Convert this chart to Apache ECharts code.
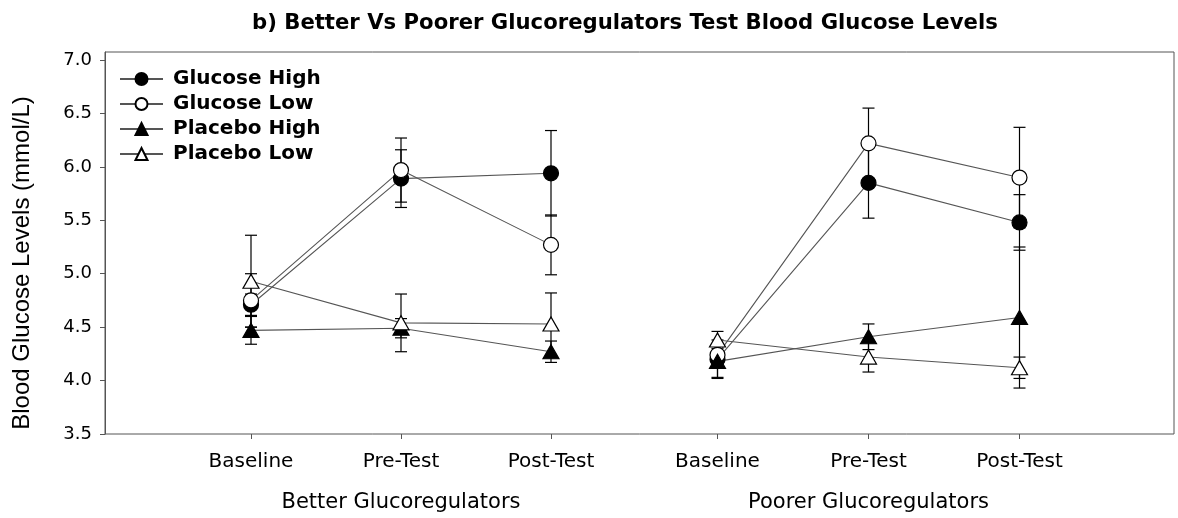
<!DOCTYPE html>
<html>
<head>
<meta charset="utf-8">
<script src="https://cdn.jsdelivr.net/npm/echarts@6/dist/echarts.min.js"></script>
<style>
html,body{margin:0;padding:0;background:#fff;}
#chart{width:1178px;height:518px;}
</style>
</head>
<body>
<div id="chart"></div>
<script>
// ---- data ----
const timepoints = ['Baseline', 'Pre-Test', 'Post-Test'];
const groupNames = ['Better Glucoregulators', 'Poorer Glucoregulators'];
const seriesNames = ['Glucose High', 'Glucose Low', 'Placebo High', 'Placebo Low'];
const yTicks = [3.5, 4.0, 4.5, 5.0, 5.5, 6.0, 6.5, 7.0];

// Better glucoregulators: means and standard errors
const betterGlucoseHigh = [4.71, 5.89, 5.94];
const betterGlucoseHighSE = [0.10, 0.27, 0.40];
const betterGlucoseLow = [4.75, 5.97, 5.27];
const betterGlucoseLowSE = [0.25, 0.30, 0.28];
const betterPlaceboHigh = [4.47, 4.49, 4.27];
const betterPlaceboHighSE = [0.13, 0.09, 0.10];
const betterPlaceboLow = [4.93, 4.54, 4.53];
const betterPlaceboLowSE = [0.43, 0.27, 0.29];

// Poorer glucoregulators: means and standard errors
const poorerGlucoseHigh = [4.20, 5.85, 5.48];
const poorerGlucoseHighSE = [0.18, 0.33, 0.26];
const poorerGlucoseLow = [4.24, 6.22, 5.90];
const poorerGlucoseLowSE = [0.08, 0.33, 0.47];
const poorerPlaceboHigh = [4.18, 4.41, 4.59];
const poorerPlaceboHighSE = [0.15, 0.12, 0.66];
const poorerPlaceboLow = [4.38, 4.22, 4.12];
const poorerPlaceboLowSE = [0.08, 0.14, 0.10];

const means = [
  [betterGlucoseHigh, betterGlucoseLow, betterPlaceboHigh, betterPlaceboLow],
  [poorerGlucoseHigh, poorerGlucoseLow, poorerPlaceboHigh, poorerPlaceboLow]
];
const errors = [
  [betterGlucoseHighSE, betterGlucoseLowSE, betterPlaceboHighSE, betterPlaceboLowSE],
  [poorerGlucoseHighSE, poorerGlucoseLowSE, poorerPlaceboHighSE, poorerPlaceboLowSE]
];

// ---- styling ----
const yMin = 3.5, yMax = 7.075;
const symbols = ['circle', 'circle', 'triangle', 'triangle'];
const symbolSizes = [15, 15, [16, 14], [16, 14]];
const fills = ['#000', '#fff', '#000', '#fff'];
const axisColor = '#555';
const font = 'DejaVu Sans';

function errorBar(params, api) {
  const x = api.value(0);
  const lo = api.coord([x, api.value(1)]);
  const hi = api.coord([x, api.value(2)]);
  const w = 6;
  const style = { stroke: '#000', lineWidth: 1.2 };
  return {
    type: 'group',
    children: [
      { type: 'line', shape: { x1: lo[0], y1: lo[1], x2: hi[0], y2: hi[1] }, style },
      { type: 'line', shape: { x1: lo[0] - w, y1: lo[1], x2: lo[0] + w, y2: lo[1] }, style },
      { type: 'line', shape: { x1: hi[0] - w, y1: hi[1], x2: hi[0] + w, y2: hi[1] }, style }
    ]
  };
}

const grids = [
  { left: 105, right: 4, top: 52, bottom: 84, show: true, borderColor: axisColor, borderWidth: 1 },
  { left: 176, width: 450, top: 52, bottom: 84 },
  { left: 642, width: 453, top: 52, bottom: 84 }
];

const xAxes = [{ gridIndex: 0, type: 'value', show: false, min: 0, max: 1 }];
const yAxes = [{
  gridIndex: 0, type: 'value', min: yMin, max: yMax, interval: 0.5,
  axisLine: { show: true, lineStyle: { color: axisColor, width: 1 } },
  axisTick: { show: true, length: 5, customValues: yTicks, lineStyle: { color: axisColor } },
  axisLabel: { customValues: yTicks, fontFamily: font, fontSize: 18, color: '#000', margin: 13,
    formatter: v => v.toFixed(1) },
  splitLine: { show: false },
  name: 'Blood Glucose Levels (mmol/L)', nameLocation: 'middle', nameGap: 71,
  nameTextStyle: { fontFamily: 'Liberation Sans', fontSize: 24, color: '#000', padding: [0, 40, 0, 0] }
}];

const lineSeries = [];
const barSeries = [];
groupNames.forEach((g, gi) => {
  xAxes.push({
    gridIndex: gi + 1, type: 'category', data: timepoints, boundaryGap: true,
    axisLine: { show: false },
    axisTick: { show: true, alignWithLabel: true, length: 5, lineStyle: { color: axisColor } },
    axisLabel: { fontFamily: font, fontSize: 20, color: '#000', margin: 18 },
    name: g, nameLocation: 'middle', nameGap: 58,
    nameTextStyle: { fontFamily: font, fontSize: 21, color: '#000' }
  });
  yAxes.push({ gridIndex: gi + 1, type: 'value', min: yMin, max: yMax, show: false, splitLine: { show: false } });
  seriesNames.forEach((name, si) => {
    lineSeries.push({
      type: 'line', name, xAxisIndex: gi + 1, yAxisIndex: gi + 1, z: 3,
      data: means[gi][si],
      symbol: symbols[si], symbolSize: symbolSizes[si], showAllSymbol: true,
      itemStyle: { color: fills[si], borderColor: '#000', borderWidth: 1.2 },
      lineStyle: { color: '#555', width: 1.1 }
    });
    barSeries.push({
      type: 'custom', name, xAxisIndex: gi + 1, yAxisIndex: gi + 1, z: 2,
      renderItem: errorBar,
      data: means[gi][si].map((m, i) => [i, m - errors[gi][si][i], m + errors[gi][si][i]])
    });
  });
});

const chart = echarts.init(document.getElementById('chart'), null, { renderer: 'canvas' });
chart.setOption({
  animation: false,
  backgroundColor: '#fff',
  title: {
    text: 'b) Better Vs Poorer Glucoregulators Test Blood Glucose Levels',
    left: 247, top: 8,
    textStyle: { fontFamily: font, fontWeight: 'bold', fontSize: 21.2, color: '#000' }
  },
  legend: {
    data: seriesNames, orient: 'vertical', left: 119, top: 69, padding: 0,
    itemWidth: 43, itemHeight: 15, itemGap: 5,
    textStyle: { fontFamily: font, fontWeight: 'bold', fontSize: 20, color: '#000', padding: [0, 0, 0, 5] }
  },
  grid: grids,
  xAxis: xAxes,
  yAxis: yAxes,
  series: lineSeries.concat(barSeries)
});
</script>
</body>
</html>
